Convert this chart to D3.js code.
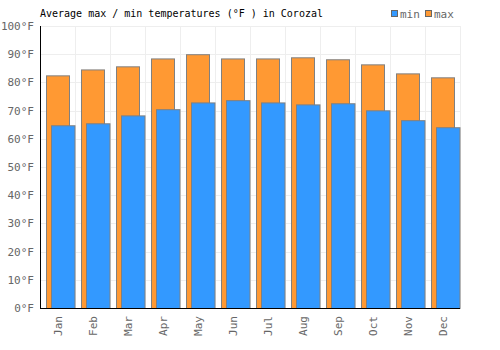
<!DOCTYPE html>
<html>
<head>
<meta charset="utf-8">
<script src="https://cdn.jsdelivr.net/npm/d3@7"></script>
<style>
  body { margin: 0; background: #fff; }
  text { font-family: "DejaVu Sans Mono", monospace; }
</style>
</head>
<body>
<div id="chart"></div>
<script>
const months = ["Jan", "Feb", "Mar", "Apr", "May", "Jun", "Jul", "Aug", "Sep", "Oct", "Nov", "Dec"];
const maxTemps = [82.5, 84.6, 85.7, 88.5, 90.0, 88.5, 88.5, 88.9, 88.2, 86.4, 83.2, 81.8];
const minTemps = [64.8, 65.5, 68.3, 70.5, 72.9, 73.7, 72.9, 72.2, 72.6, 70.1, 66.6, 64.1];
const yTicks = [0, 10, 20, 30, 40, 50, 60, 70, 80, 90, 100];

const createChart = () => {
    const width = 500, height = 350;
    const margin = { top: 26, right: 40, bottom: 42, left: 40 };
    const plotW = width - margin.left - margin.right;
    const plotH = height - margin.top - margin.bottom;

    const svg = d3.select("#chart").append("svg")
        .attr("width", width)
        .attr("height", height);

    const g = svg.append("g")
        .attr("transform", `translate(${margin.left}, ${margin.top})`);

    const x = d3.scaleBand().domain(months).range([0, plotW]);
    const y = d3.scaleLinear().domain([0, 100]).range([plotH, 0]);
    const bw = x.bandwidth();

    // grid
    g.selectAll(".hgrid")
        .data(yTicks)
        .enter().append("line")
        .attr("x1", 0).attr("x2", plotW)
        .attr("y1", d => Math.round(y(d)) + 0.5)
        .attr("y2", d => Math.round(y(d)) + 0.5)
        .attr("stroke", "#eeeeee");

    g.selectAll(".vgrid")
        .data(months)
        .enter().append("line")
        .attr("x1", d => x(d) + bw + 0.5).attr("x2", d => x(d) + bw + 0.5)
        .attr("y1", 0).attr("y2", plotH)
        .attr("stroke", "#eeeeee");

    // max bars
    g.selectAll(".max")
        .data(maxTemps)
        .enter().append("rect")
        .attr("x", (d, i) => x(months[i]) + 6.5)
        .attr("width", 23)
        .attr("y", d => y(d) + 0.5)
        .attr("height", d => plotH - y(d))
        .attr("fill", "#ff9933")
        .attr("stroke", "#808080")
        .attr("stroke-width", 1);

    // min bars
    g.selectAll(".min")
        .data(minTemps)
        .enter().append("rect")
        .attr("x", (d, i) => x(months[i]) + 11.5)
        .attr("width", 23.5)
        .attr("y", d => y(d) + 0.5)
        .attr("height", d => plotH - y(d))
        .attr("fill", "#3399ff")
        .attr("stroke", "#808080")
        .attr("stroke-width", 1);

    // axes lines
    g.append("line")
        .attr("x1", 0.5).attr("x2", 0.5)
        .attr("y1", 0).attr("y2", plotH + 0.5)
        .attr("stroke", "#000");
    g.append("line")
        .attr("x1", 0).attr("x2", plotW)
        .attr("y1", plotH + 0.5).attr("y2", plotH + 0.5)
        .attr("stroke", "#000");

    // y tick labels
    g.selectAll(".ylab")
        .data(yTicks)
        .enter().append("text")
        .text(d => d + "°F")
        .attr("x", -6)
        .attr("y", d => y(d) + 4)
        .attr("text-anchor", "end")
        .attr("fill", "#666")
        .style("font-size", "11px");

    // x tick labels
    g.selectAll(".xlab")
        .data(months)
        .enter().append("text")
        .text(d => d)
        .attr("transform", d => `translate(${x(d) + bw / 2 + 4}, ${plotH + 8}) rotate(-90)`)
        .attr("text-anchor", "end")
        .attr("fill", "#666")
        .style("font-size", "11px");

    // title
    svg.append("text")
        .text("Average max / min temperatures (°F ) in Corozal")
        .attr("x", 40)
        .attr("y", 17)
        .attr("fill", "#000")
        .style("font-size", "10px");

    // legend
    const legend = [{ name: "min", color: "#3399ff", x: 391 }, { name: "max", color: "#ff9933", x: 425 }];
    const lg = svg.selectAll(".legend")
        .data(legend)
        .enter().append("g")
        .attr("transform", d => `translate(${d.x}, 0)`);
    lg.append("rect")
        .attr("x", 0.5).attr("y", 10.5)
        .attr("width", 6).attr("height", 6)
        .attr("fill", d => d.color)
        .attr("stroke", "#666");
    lg.append("text")
        .text(d => d.name)
        .attr("x", 9)
        .attr("y", 18)
        .attr("fill", "#666")
        .style("font-size", "11px");
};

createChart();
</script>
</body>
</html>
